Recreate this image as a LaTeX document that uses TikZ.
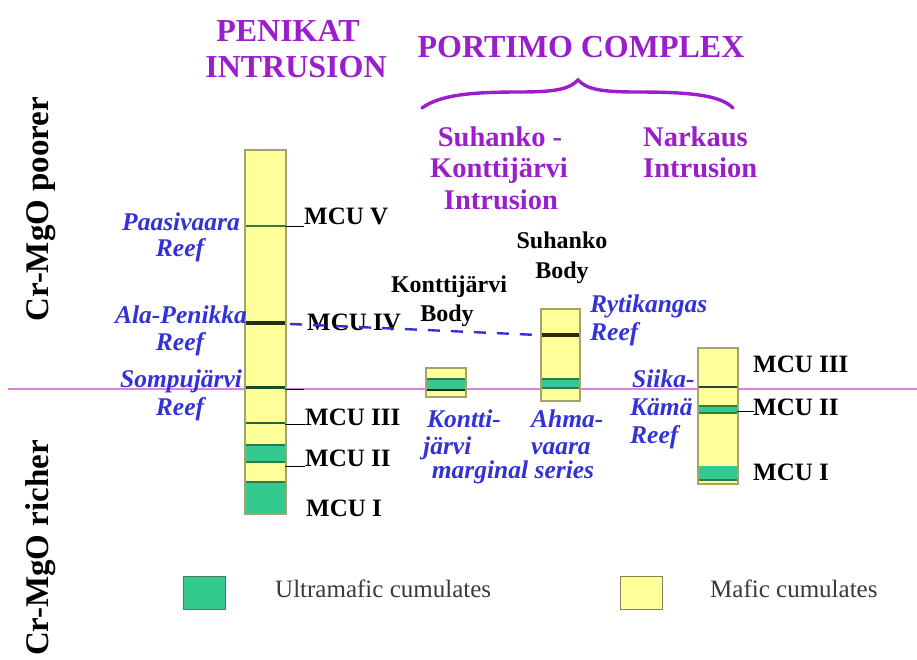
\documentclass[tikz,border=0pt]{standalone}
\usepackage{fontspec}
\setmainfont{Liberation Serif}
\definecolor{myyel}{HTML}{FFFF99}
\definecolor{mygrn}{HTML}{33C98F}
\definecolor{coledge}{HTML}{A3A36A}
\definecolor{purp}{HTML}{9A1ECB}
\definecolor{reefblue}{HTML}{3232D6}
\definecolor{pinkline}{HTML}{E07FE0}
\definecolor{dkgrn}{HTML}{2F7A4A}
\definecolor{dkline}{HTML}{2B2B10}
\definecolor{leggray}{HTML}{3A3A3A}
\tikzset{
  colbox/.style={draw=coledge, fill=myyel, line width=1.2pt},
  grnband/.style={fill=mygrn},
  bandedge/.style={draw=dkgrn, line width=2pt},
  blkline/.style={draw=dkline, line width=3.4pt},
  leader/.style={draw=black, line width=0.8pt},
  ttl/.style={text=purp, font=\fontsize{32}{34}\selectfont\bfseries, inner sep=0pt},
  subttl/.style={text=purp, font=\fontsize{28.5}{31}\selectfont\bfseries, inner sep=0pt},
  bodylbl/.style={text=black, font=\fontsize{24}{26}\selectfont\bfseries, inner sep=0pt},
  reef/.style={text=reefblue, font=\fontsize{25.5}{27}\selectfont\bfseries\itshape, inner sep=0pt},
  mcu/.style={text=black, font=\fontsize{25}{27}\selectfont\bfseries, inner sep=0pt},
  leg/.style={text=leggray, font=\fontsize{25}{26}\selectfont, inner sep=0pt},
  side/.style={text=black, font=\fontsize{33}{36}\selectfont\bfseries, inner sep=0pt, rotate=90}
}
\begin{document}
\begin{tikzpicture}[x=1pt,y=-1pt]
\useasboundingbox[fill=white] (0,0) rectangle (917,660);

% pink reference line
\coordinate (pl) at (8,389);
\coordinate (pr) at (917,389);
\draw[pinkline, line width=1.2pt] (pl) -- (pr);

% side labels
\node[side] (poor) at (41,209) {Cr-MgO poorer};
\node[side] (rich) at (41,548) {Cr-MgO richer};

% titles
\node[ttl, anchor=base] (pen1) at (288,42) {PENIKAT};
\node[ttl, anchor=base] (pen2) at (296,78) {INTRUSION};
\node[ttl, anchor=base] (port) at (581,58) {PORTIMO COMPLEX};
\draw[purp, line width=3.4pt, line cap=round]
  (422,108) .. controls (440,95) and (470,92) .. (520,92)
  .. controls (560,92) and (570,88) .. (578,80)
  .. controls (586,88) and (596,92) .. (636,92)
  .. controls (690,92) and (720,95) .. (733,108);

\node[subttl, anchor=base] (sk1) at (500,147) {Suhanko -};
\node[subttl, anchor=base] (sk2) at (499,178) {Konttijärvi};
\node[subttl, anchor=base] (sk3) at (501,210) {Intrusion};
\node[subttl, anchor=base west] (nk1) at (643,147) {Narkaus};
\node[subttl, anchor=base west] (nk2) at (643,178) {Intrusion};

\node[bodylbl, anchor=base] (sb1) at (562,248) {Suhanko};
\node[bodylbl, anchor=base] (sb2) at (562,278) {Body};
\node[bodylbl, anchor=base] (kb1) at (449,292) {Konttijärvi};
\node[bodylbl, anchor=base] (kb2) at (447,321) {Body};

% ---------------- Penikat column
\node[colbox, minimum width=40pt, minimum height=363pt, anchor=north west] (pen) at (245,150) {};
\fill[grnband] (245,445) rectangle (285,462);
\fill[grnband] (245,482) rectangle (285,513);
\draw[draw=dkgrn, line width=2.8pt] (245,226) -- (285,226);
\draw[blkline] (245,323) -- (285,323);
\draw[draw=dkgrn!60!black, line width=3pt] (245,387) -- (285,387);
\draw[draw=dkgrn!80!black, line width=2.6pt] (245,423) -- (285,423);
\draw[bandedge] (245,445) -- (285,445);
\draw[bandedge] (245,462) -- (285,462);
\draw[bandedge] (245,482) -- (285,482);
\draw[coledge, line width=1.2pt] (pen.north west) rectangle (pen.south east);

% leaders penikat
\coordinate (l5a) at (285,226); \coordinate (l5b) at (304,226);
\coordinate (l3a) at (285,389); \coordinate (l3b) at (304,389);
\coordinate (l3ma) at (285,424); \coordinate (l3mb) at (305,424);
\coordinate (l2a) at (285,466); \coordinate (l2b) at (305,466);
\draw[leader] (l5a) -- (l5b);
\draw[leader] (l3a) -- (l3b);
\draw[leader] (l3ma) -- (l3mb);
\draw[leader] (l2a) -- (l2b);

\node[mcu, anchor=base west] (m5) at (304,225) {MCU V};
\node[mcu, anchor=base west] (m4) at (307,330) {MCU IV};
\node[mcu, anchor=base west] (m3) at (305,425) {MCU III};
\node[mcu, anchor=base west] (m2) at (305,466) {MCU II};
\node[mcu, anchor=base west] (m1) at (306,516) {MCU I};

\node[reef, anchor=base] (r1a) at (181,230) {Paasivaara};
\node[reef, anchor=base] (r1b) at (180,256) {Reef};
\node[reef, anchor=base] (r2a) at (181,323) {Ala-Penikka};
\node[reef, anchor=base] (r2b) at (180,350) {Reef};
\node[reef, anchor=base] (r3a) at (181,387) {Sompujärvi};
\node[reef, anchor=base] (r3b) at (180,415) {Reef};

% ---------------- Konttijarvi box
\node[colbox, minimum width=39pt, minimum height=28pt, anchor=north west] (kon) at (426,368) {};
\fill[grnband] (426,379) rectangle (465,390);
\draw[bandedge] (426,379) -- (465,379);
\draw[draw=dkline, line width=2.2pt] (426,390) -- (465,390);
\draw[coledge, line width=1.2pt] (kon.north west) rectangle (kon.south east);

% ---------------- Suhanko column
\node[colbox, minimum width=38pt, minimum height=91pt, anchor=north west] (suh) at (541,309) {};
\fill[grnband] (541,379) rectangle (579,388);
\draw[blkline] (541,335) -- (579,335);
\draw[bandedge] (541,379) -- (579,379);
\draw[bandedge] (541,388) -- (579,388);
\draw[coledge, line width=1.2pt] (suh.north west) rectangle (suh.south east);

% dashed correlation line
\coordinate (da) at (290,324);
\coordinate (db) at (538,335);
\draw[reefblue, line width=2.4pt, dash pattern=on 12pt off 11pt] (da) -- (db);

\node[reef, anchor=base west] (ry1) at (590,312) {Rytikangas};
\node[reef, anchor=base west] (ry2) at (590,340) {Reef};

\node[reef, anchor=base west] (kj1) at (427,427) {Kontti-};
\node[reef, anchor=base west] (kj2) at (423,454) {järvi};
\node[reef, anchor=base west] (ah1) at (531,427) {Ahma-};
\node[reef, anchor=base west] (ah2) at (531,454) {vaara};
\node[reef, anchor=base] (ms) at (513,478) {marginal series};

% ---------------- Narkaus column
\node[colbox, minimum width=39pt, minimum height=135pt, anchor=north west] (nar) at (698,348) {};
\fill[grnband] (698,406) rectangle (737,413);
\fill[grnband] (698,466) rectangle (737,480);
\draw[draw=dkgrn!60!black, line width=2.6pt] (698,387) -- (737,387);
\draw[bandedge] (698,406) -- (737,406);
\draw[bandedge] (698,413) -- (737,413);
\draw[bandedge] (698,480) -- (737,480);
\draw[coledge, line width=1.2pt] (nar.north west) rectangle (nar.south east);

\coordinate (n2a) at (737,411); \coordinate (n2b) at (754,411);
\draw[leader] (n2a) -- (n2b);
\node[mcu, anchor=base west] (nm3) at (753,372) {MCU III};
\node[mcu, anchor=base west] (nm2) at (753,415) {MCU II};
\node[mcu, anchor=base west] (nm1) at (753,480) {MCU I};

\node[reef, anchor=base west] (sk1r) at (632,387) {Siika-};
\node[reef, anchor=base west] (sk2r) at (630,415) {Kämä};
\node[reef, anchor=base west] (sk3r) at (630,443) {Reef};

% ---------------- legend
\node[draw=dkgrn!70!gray, fill=mygrn, line width=1.2pt, minimum width=42pt, minimum height=33pt, anchor=north west] (lg) at (183,576) {};
\node[leg, anchor=base west] (lgt) at (275,597) {Ultramafic cumulates};
\node[draw=coledge!80!black, fill=myyel, line width=1.2pt, minimum width=42pt, minimum height=33pt, anchor=north west] (ly) at (620,576) {};
\node[leg, anchor=base west] (lyt) at (710,597) {Mafic cumulates};
\end{tikzpicture}
\end{document}
